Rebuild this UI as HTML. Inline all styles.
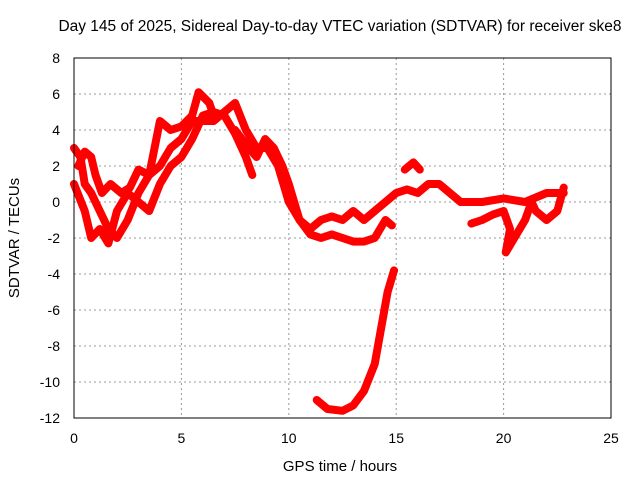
<!DOCTYPE html>
<html><head><meta charset="utf-8"><style>
body{margin:0;background:#fff;}
svg{display:block;font-family:"Liberation Sans",sans-serif;}
</style></head><body>
<svg id="chart" width="640" height="480" viewBox="0 0 640 480">
<text x="340" y="31" font-size="15.5" text-anchor="middle">Day 145 of 2025, Sidereal Day-to-day VTEC variation (SDTVAR) for receiver ske8</text>
<text x="340" y="471" font-size="15" text-anchor="middle">GPS time / hours</text>
<text transform="translate(19,238) rotate(-90)" font-size="15" text-anchor="middle">SDTVAR / TECUs</text>
<g id="grid"></g><g id="ticks"></g><g id="series"></g>
<rect x="74" y="58" width="537" height="360" fill="none" stroke="#000" stroke-width="1"/>
</svg>
<script>
const xTicks=[0,5,10,15,20,25];
const yTicks=[8,6,4,2,0,-2,-4,-6,-8,-10,-12];
const seriesA=[[0,3],[0.3,2.5],[0.5,1],[0.8,0.5],[1.2,-0.5],[1.6,-1.5],[2,-2],[2.5,-1],[3,0.5],[3.5,1.5],[4,2],[4.5,3],[5,3.5],[5.5,4.5],[6,4.5],[6.5,4.5],[7,5],[7.5,5.5],[8,4],[8.5,3],[9,3],[9.5,2],[10,0],[10.5,-1],[11,-1.5],[11.5,-1],[12,-0.8],[12.5,-1],[13,-0.5],[13.5,-1],[14,-0.5],[14.5,0],[15,0.5],[15.5,0.7],[16,0.5],[16.5,1],[17,1],[17.5,0.5],[18,0],[19,0],[20,0.2],[21,0],[22,0.5],[22.8,0.5]];
const seriesB=[[0,1],[0.5,-0.5],[0.8,-2],[1.2,-1.5],[1.6,-2.3],[2,-0.5],[2.5,0.5],[3,0],[3.5,-0.5],[4,1],[4.5,2],[5,2.5],[5.5,3.5],[6,4.8],[6.5,5],[7,4.8],[7.5,3.8],[8,2.5],[8.3,1.5]];
const seriesC=[[7.5,4],[8,3.2],[8.5,2.5],[8.9,3.5],[9.3,3],[9.7,2],[10,1],[10.5,-1],[11,-1.8],[11.5,-2],[12,-1.8],[12.5,-2],[13,-2.2],[13.5,-2.2],[14,-2],[14.5,-1],[14.8,-1.3]];
const seriesD=[[0.2,2],[0.5,2.8],[0.8,2.5],[1,1.5],[1.3,0.5],[1.7,1],[2.2,0.5],[2.6,0.8],[3,1.8],[3.5,1.5],[4,4.5],[4.5,4],[5,4.2],[5.5,4.8],[5.8,6.1],[6.3,5.5],[6.5,4.8]];
const seriesE=[[11.3,-11],[11.8,-11.5],[12.5,-11.6],[13,-11.3],[13.5,-10.5],[14,-9],[14.3,-7],[14.6,-5],[14.9,-3.8]];
const seriesF=[[15.4,1.8],[15.8,2.2],[16.1,1.8]];
const seriesG=[[18.5,-1.2],[19,-1],[19.5,-0.7],[20,-0.5],[20.3,-1.5],[20.1,-2.8],[20.5,-2],[21,-1],[21.3,0],[21.5,-0.5],[22,-1],[22.5,-0.5],[22.8,0.8]];
const allSeries=[seriesA,seriesB,seriesC,seriesD,seriesE,seriesF,seriesG];
const NS="http://www.w3.org/2000/svg";
function xs(v){return 74+v*537/25;}
function ys(v){return 202-v*18;}
const grid=document.getElementById('grid'),ticks=document.getElementById('ticks'),ser=document.getElementById('series');
xTicks.forEach(t=>{
 const x=xs(t);
 if(t>0&&t<25){const l=document.createElementNS(NS,'line');
 
 
 l.setAttribute('x1',x);l.setAttribute('x2',x);l.setAttribute('y1',58);l.setAttribute('y2',418);
 l.setAttribute('stroke','#999');l.setAttribute('stroke-dasharray','2,3');grid.appendChild(l);}
 const tx=document.createElementNS(NS,'text');
 
 
 tx.setAttribute('x',x);tx.setAttribute('y',443);tx.setAttribute('font-size','14');tx.setAttribute('text-anchor','middle');
 tx.textContent=t;ticks.appendChild(tx);
});
yTicks.forEach(t=>{
 const y=ys(t);
 if(t<8&&t>-12){const l=document.createElementNS(NS,'line');
 
 
 l.setAttribute('x1',74);l.setAttribute('x2',611);l.setAttribute('y1',y);l.setAttribute('y2',y);
 l.setAttribute('stroke','#999');l.setAttribute('stroke-dasharray','2,3');grid.appendChild(l);}
 const tx=document.createElementNS(NS,'text');
 
 
 tx.setAttribute('x',60);tx.setAttribute('y',y+5);tx.setAttribute('font-size','14');tx.setAttribute('text-anchor','end');
 tx.textContent=t;ticks.appendChild(tx);
});
allSeries.forEach((s,i)=>{
 const p=document.createElementNS(NS,'polyline');
 
 
 p.setAttribute('points',s.map(d=>xs(d[0])+','+ys(d[1])).join(' '));
 p.setAttribute('fill','none');p.setAttribute('stroke','#f00');p.setAttribute('stroke-width','8');
 p.setAttribute('stroke-linejoin','round');p.setAttribute('stroke-linecap','round');
 ser.appendChild(p);
});
</script>
</body></html>
